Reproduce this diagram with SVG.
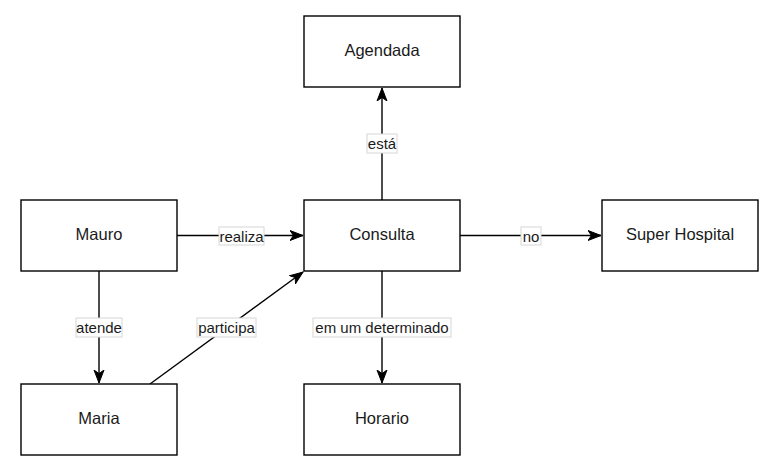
<svg xmlns="http://www.w3.org/2000/svg" width="780" height="472" viewBox="0 0 780 472">
<style>
.node rect{fill:#fff;stroke:#000;stroke-width:1.4}
.node text{font-family:"Liberation Sans",Arial,sans-serif;font-size:16.5px;fill:#1a1a1a;text-anchor:middle;dominant-baseline:central}
.edge{stroke:#000;stroke-width:1.4;fill:none}
.lbl rect{fill:#fff;stroke:#d6d6d6;stroke-width:1}
.lbl text{font-family:"Liberation Sans",Arial,sans-serif;font-size:15px;fill:#1a1a1a;text-anchor:middle;dominant-baseline:central}
</style>
<defs>
<marker id="arr" markerUnits="userSpaceOnUse" markerWidth="14" markerHeight="12" refX="13" refY="6" orient="auto">
<path d="M0,1 L13,6 L0,11 L3.5,6 z" fill="#000" stroke="#000" stroke-width="1"/>
</marker>
</defs>
<rect width="780" height="472" fill="#fff"/>
<g id="connectors">
<line class="edge" x1="177" y1="235.5" x2="303" y2="235.5" marker-end="url(#arr)"/>
<line class="edge" x1="99" y1="271" x2="99" y2="383" marker-end="url(#arr)"/>
<line class="edge" x1="150" y1="384" x2="303" y2="272" marker-end="url(#arr)"/>
<line class="edge" x1="382" y1="200" x2="382" y2="88" marker-end="url(#arr)"/>
<line class="edge" x1="382" y1="271" x2="382" y2="383" marker-end="url(#arr)"/>
<line class="edge" x1="460" y1="235.5" x2="601" y2="235.5" marker-end="url(#arr)"/>
<g class="lbl"><rect x="219" y="227" width="45" height="18"/><text x="241.5" y="236">realiza</text></g>
<g class="lbl"><rect x="76" y="318" width="46" height="19"/><text x="99" y="327.5">atende</text></g>
<g class="lbl"><rect x="197" y="318" width="59" height="19"/><text x="226.5" y="327.5">participa</text></g>
<g class="lbl"><rect x="367" y="134" width="30" height="19"/><text x="382" y="143.5">está</text></g>
<g class="lbl"><rect x="313" y="318" width="138" height="19"/><text x="382" y="327.5">em um determinado</text></g>
<g class="lbl"><rect x="521" y="227" width="20" height="18"/><text x="531" y="236">no</text></g>
</g>
<g id="mauro" class="node"><rect x="21" y="200" width="156" height="71"/><text x="99" y="234">Mauro</text></g>
<g id="maria" class="node"><rect x="21" y="384" width="156" height="71"/><text x="99" y="418">Maria</text></g>
<g id="consulta" class="node"><rect x="304" y="200" width="156" height="71"/><text x="382" y="234">Consulta</text></g>
<g id="agendada" class="node"><rect x="304" y="16" width="156" height="71"/><text x="382" y="50">Agendada</text></g>
<g id="horario" class="node"><rect x="304" y="384" width="156" height="71"/><text x="382" y="418">Horario</text></g>
<g id="superhospital" class="node"><rect x="602" y="200" width="156" height="71"/><text x="680" y="234">Super Hospital</text></g>
</svg>
